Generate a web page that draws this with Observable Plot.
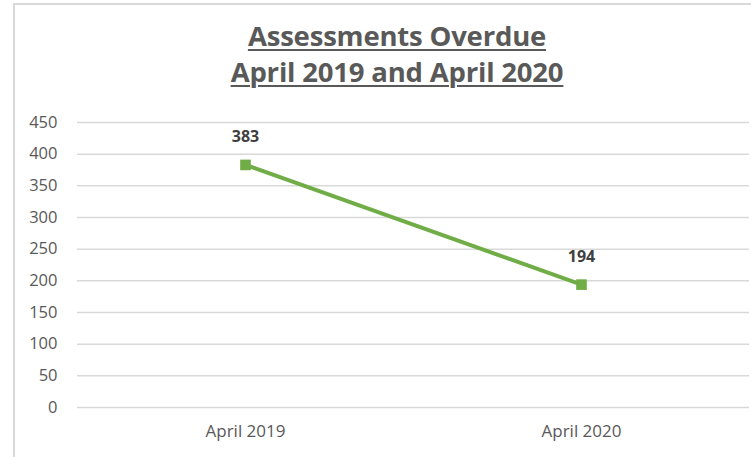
<!DOCTYPE html>
<html>
<head>
<meta charset="utf-8">
<script src="https://cdn.jsdelivr.net/npm/d3@7"></script>
<script src="https://cdn.jsdelivr.net/npm/@observablehq/plot@0.6"></script>
<style>
  html, body { margin: 0; padding: 0; background: #fff; }
  #wrap { position: relative; width: 751px; height: 457px; overflow: hidden; font-family: "Open Sans", sans-serif; }
  #frame { position: absolute; left: 13px; top: 3px; right: -4px; bottom: -4px; border-left: 2px solid #d9d9d9; border-top: 2px solid #d9d9d9; }
  #title { position: absolute; left: 0; top: 18px; width: 794px; text-align: center; font-family: "Open Sans", sans-serif; font-weight: bold; font-size: 27.5px; line-height: 36px; color: #595959; letter-spacing: -0.2px; }
  #title span { text-decoration: underline; text-decoration-thickness: 2px; text-underline-offset: 3px; }
  #chart { position: absolute; left: 0; top: 95px; }
</style>
</head>
<body>
<div id="wrap">
  <div id="frame"></div>
  <div id="title"><span>Assessments Overdue</span><br><span>April 2019 and April 2020</span></div>
  <div id="chart"></div>
</div>
<script>
const categories = ["April 2019", "April 2020"];
const values = [383, 194];
const yTicks = [0, 50, 100, 150, 200, 250, 300, 350, 400, 450];

const data = categories.map((c, i) => ({ period: c, value: values[i] }));

const plot = Plot.plot({
  width: 751,
  height: 362,
  marginTop: 27,
  marginBottom: 50,
  marginLeft: 77,
  marginRight: 2,
  style: { fontFamily: "Open Sans, sans-serif", fontSize: "16px", color: "#595959", background: "transparent" },
  x: { type: "point", domain: categories, padding: 0.5, label: null },
  y: { domain: [0, 450], label: null },
  marks: [
    Plot.ruleY(yTicks, { stroke: "#d9d9d9", strokeWidth: 1.5 }),
    Plot.axisY({ ticks: yTicks, tickSize: 0, tickPadding: 20, fill: "#595959", fontSize: 16.5, label: null }),
    Plot.axisX({ tickSize: 0, tickPadding: 17, fill: "#595959", fontSize: 17, label: null }),
    Plot.line(data, { x: "period", y: "value", stroke: "#70AD47", strokeWidth: 4 }),
    Plot.dot(data, { x: "period", y: "value", symbol: "square", r: 6, fill: "#70AD47", stroke: "none" }),
    Plot.text(data, { x: "period", y: "value", text: d => String(d.value), dy: -28, fontWeight: "bold", fontSize: 16, fill: "#404040" })
  ]
});
document.getElementById("chart").appendChild(plot);
</script>
</body>
</html>
